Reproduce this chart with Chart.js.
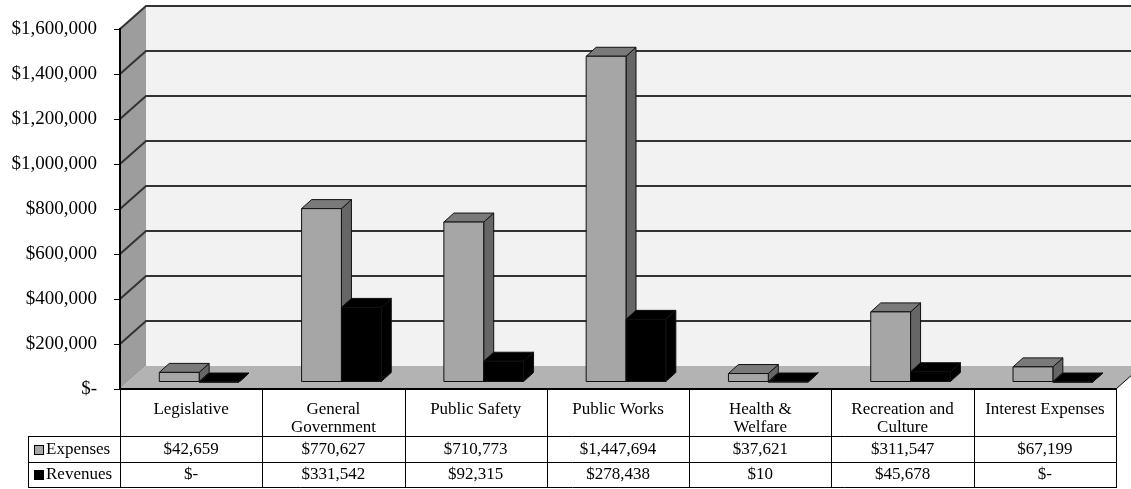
<!DOCTYPE html>
<html>
<head>
<meta charset="utf-8">
<script src="https://cdn.jsdelivr.net/npm/chart.js@4.4.0/dist/chart.umd.min.js"></script>
<style>
  html, body { margin: 0; padding: 0; background: #fff; }
</style>
</head>
<body>
<canvas id="myChart" width="1131" height="489"></canvas>
<script>
var categories = [["Legislative"], ["General", "Government"], ["Public Safety"], ["Public Works"], ["Health &", "Welfare"], ["Recreation and", "Culture"], ["Interest Expenses"]];
var expenses = [42659, 770627, 710773, 1447694, 37621, 311547, 67199];
var revenues = [0, 331542, 92315, 278438, 10, 45678, 0];
var seriesNames = ["Expenses", "Revenues"];
var yTickLabels = ["$-", "$200,000", "$400,000", "$600,000", "$800,000", "$1,000,000", "$1,200,000", "$1,400,000", "$1,600,000"];

// 3d look
var wallDX = 26, wallDY = 23;
var barOffX = 8, barOffY = 7;
var barDX = 10, barDY = 9;
var faces = [
	{ front: "#a6a6a6", top: "#7a7a7a", side: "#666666" },
	{ front: "#000000", top: "#000000", side: "#000000" },
];
var serif = "'Liberation Serif', 'Times New Roman', serif";

function money(v) {
	return v === 0 ? "$-" : "$" + v.toLocaleString("en-US");
}

function poly(ctx, pts, fill, stroke) {
	ctx.beginPath();
	ctx.moveTo(pts[0][0], pts[0][1]);
	for (var i = 1; i < pts.length; i++) ctx.lineTo(pts[i][0], pts[i][1]);
	ctx.closePath();
	if (fill) { ctx.fillStyle = fill; ctx.fill(); }
	if (stroke) { ctx.strokeStyle = stroke; ctx.lineWidth = 1; ctx.stroke(); }
}

var box3d = {
	id: "box3d",
	beforeDraw: function (chart) {
		var ctx = chart.ctx, a = chart.chartArea, y = chart.scales.y;
		ctx.save();
		// back wall
		ctx.fillStyle = "#f2f2f2";
		ctx.fillRect(a.left + wallDX, a.top - wallDY, a.right - a.left + 10, a.bottom - a.top);
		// left wall
		poly(ctx, [[a.left, a.top], [a.left + wallDX, a.top - wallDY], [a.left + wallDX, a.bottom - wallDY], [a.left, a.bottom]], "#9d9d9d");
		// floor
		poly(ctx, [[a.left, a.bottom], [a.right, a.bottom], [a.right + wallDX, a.bottom - wallDY], [a.left + wallDX, a.bottom - wallDY]], "#b3b3b3");
		ctx.strokeStyle = "#000";
		ctx.lineWidth = 1;
		ctx.beginPath();
		ctx.moveTo(a.right, a.bottom);
		ctx.lineTo(a.right + wallDX, a.bottom - wallDY);
		ctx.stroke();
		// grid lines
		ctx.strokeStyle = "#333";
		ctx.lineWidth = 2;
		y.ticks.forEach(function (t, i) {
			if (i === 0) return;
			var py = y.getPixelForValue(t.value);
			ctx.beginPath();
			ctx.moveTo(a.left, py);
			ctx.lineTo(a.left + wallDX, py - wallDY);
			ctx.lineTo(chart.width + 5, py - wallDY);
			ctx.stroke();
		});
		ctx.restore();
	},
	afterDatasetsDraw: function (chart) {
		var ctx = chart.ctx;
		ctx.save();
		ctx.lineJoin = "round";
		for (var i = 0; i < categories.length; i++) {
			for (var d = 0; d < chart.data.datasets.length; d++) {
				var bar = chart.getDatasetMeta(d).data[i];
				var f = faces[d];
				var x0 = bar.x - bar.width / 2 + barOffX, x1 = bar.x + bar.width / 2 + barOffX;
				var yt = bar.y - barOffY, yb = bar.base - barOffY;
				poly(ctx, [[x1, yt], [x1 + barDX, yt - barDY], [x1 + barDX, yb - barDY], [x1, yb]], f.side, "#111");
				poly(ctx, [[x0, yt], [x1, yt], [x1 + barDX, yt - barDY], [x0 + barDX, yt - barDY]], f.top, "#111");
				poly(ctx, [[x0, yt], [x1, yt], [x1, yb], [x0, yb]], f.front, "#111");
			}
		}
		ctx.restore();
	},
	afterDraw: function (chart) {
		var ctx = chart.ctx, a = chart.chartArea, x = chart.scales.x;
		var colW = x.getPixelForValue(1) - x.getPixelForValue(0);
		var rowTop = [a.bottom, 436, 462, 487];
		var legLeft = 28;
		ctx.save();
		ctx.strokeStyle = "#000";
		// floor front edge
		ctx.lineWidth = 2;
		ctx.beginPath();
		ctx.moveTo(a.left, a.bottom);
		ctx.lineTo(a.right, a.bottom);
		ctx.stroke();
		ctx.lineWidth = 1;
		ctx.beginPath();
		for (var k = 0; k <= categories.length; k++) {
			var cx = Math.round(a.left + k * colW) + 0.5;
			ctx.moveTo(cx, a.bottom);
			ctx.lineTo(cx, rowTop[3]);
		}
		ctx.moveTo(legLeft + 0.5, rowTop[1]);
		ctx.lineTo(legLeft + 0.5, rowTop[3]);
		for (var r = 1; r <= 3; r++) {
			ctx.moveTo(legLeft, rowTop[r] + 0.5);
			ctx.lineTo(a.right + 1, rowTop[r] + 0.5);
		}
		ctx.stroke();
		// texts
		ctx.fillStyle = "#000";
		ctx.font = "17px " + serif;
		ctx.textAlign = "center";
		ctx.textBaseline = "alphabetic";
		var series = [expenses, revenues];
		for (var i = 0; i < categories.length; i++) {
			var px = x.getPixelForValue(i);
			categories[i].forEach(function (line, j) {
				ctx.fillText(line, px, 414 + j * 18);
			});
			ctx.fillText(money(series[0][i]), px, 454);
			ctx.fillText(money(series[1][i]), px, 479);
		}
		// legend keys
		ctx.textAlign = "left";
		var keyY = [445, 470];
		for (var s = 0; s < seriesNames.length; s++) {
			ctx.fillStyle = faces[s].front;
			ctx.fillRect(34.5, keyY[s] + 0.5, 9, 9);
			ctx.strokeStyle = "#000";
			ctx.strokeRect(34.5, keyY[s] + 0.5, 9, 9);
			ctx.fillStyle = "#000";
			ctx.fillText(seriesNames[s], 46, keyY[s] + 9);
		}
		ctx.restore();
	},
};

var ctx = document.getElementById("myChart").getContext("2d");
var myChart = new Chart(ctx, {
	type: "bar",
	data: {
		labels: categories,
		datasets: [
			{ label: seriesNames[0], data: expenses, backgroundColor: "rgba(0,0,0,0)", borderWidth: 0 },
			{ label: seriesNames[1], data: revenues, backgroundColor: "rgba(0,0,0,0)", borderWidth: 0 },
		],
	},
	options: {
		responsive: false,
		animation: false,
		devicePixelRatio: 1,
		categoryPercentage: 0.56,
		barPercentage: 1,
		layout: { padding: { left: 0, right: 15, top: 29, bottom: 100 } },
		plugins: { legend: { display: false }, tooltip: { enabled: false } },
		scales: {
			x: { display: false },
			y: {
				min: 0,
				max: 1600000,
				afterFit: function (s) { s.width = 120; },
				ticks: {
					stepSize: 200000,
					color: "#000",
					padding: 17,
					font: { family: serif, size: 19 },
					callback: function (v, i) { return yTickLabels[i]; },
				},
				grid: { drawOnChartArea: false, tickLength: 6, color: "#000" },
				border: { color: "#000", width: 2 },
			},
		},
	},
	plugins: [box3d],
});
</script>
</body>
</html>
